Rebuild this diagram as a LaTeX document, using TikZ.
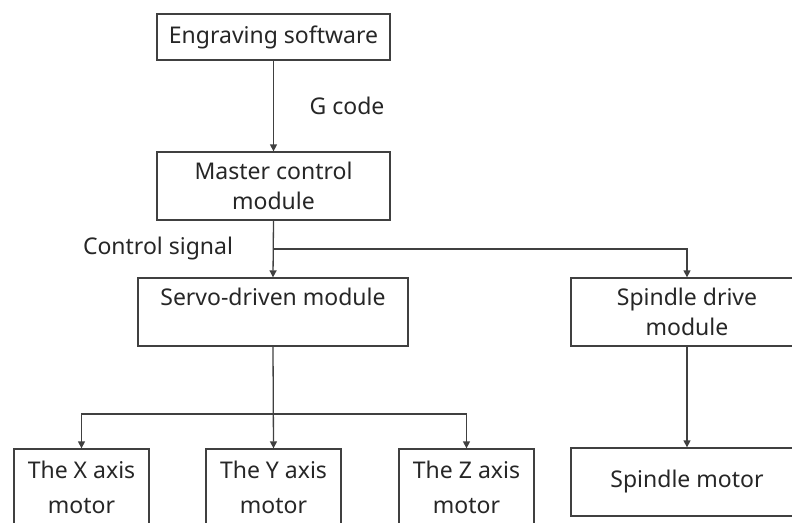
\documentclass[tikz,border=0pt]{standalone}
\usepackage{fontspec}
\setmainfont{Noto Sans}
\usepackage{tikz}
\usetikzlibrary{arrows.meta, positioning}

\begin{document}
\begin{tikzpicture}[
      x=1pt, y=-1pt,
      box/.style={
        rectangle, draw=black!75, line width=1.3pt,
        align=center, inner sep=0pt, text=black!85,
        font=\fontsize{23}{30}\selectfont
      },
      motor/.style={
        box, minimum width=135pt, minimum height=112pt,
        font=\fontsize{23}{35}\selectfont
      },
      lbl/.style={
        font=\fontsize{23}{30}\selectfont, text=black!85
      },
      arr/.style={
        -{Triangle[length=7pt, width=7pt]}, line width=1.3pt, draw=black!75
      }
    ]

    \useasboundingbox (0,0) rectangle (792,522);
    \clip (0,0) rectangle (792,522);

    % --- Upper boxes ---
    \node[box, minimum width=233pt, minimum height=46pt] (soft)   at (273.5,37)  {Engraving software};
    \node[box, minimum width=233pt, minimum height=68pt] (master) at (273.5,186) {Master control\\module};
    \node[box, minimum width=270pt, minimum height=68pt] (servo)  at (273,312)   {Servo-driven module\\ \mbox{}};
    \node[box, minimum width=232pt, minimum height=68pt] (spdrv)  at (687,312)   {Spindle drive\\module};

    % --- Motor boxes ---
    \node[motor] (xmot)  at (81.5,505)  {The X axis\\motor\\ \mbox{}};
    \node[motor] (ymot)  at (273.5,505) {The Y axis\\motor\\ \mbox{}};
    \node[motor] (zmot)  at (466.5,505) {The Z axis\\motor\\ \mbox{}};
    \node[box, minimum width=232pt, minimum height=68pt] (spmot) at (687,482) {Spindle motor};

    % --- Labels ---
    \node[lbl] (gcode) at (347,106) {G code};
    \node[lbl] (ctrl)  at (158,249) {Control signal};

    % --- Branch points ---
    \coordinate (fork1) at (273,249);
    \coordinate (fork2) at (273,414);

    % --- Arrows ---
    \draw[arr] (soft.south) -- (master.north);
    \draw[arr] (master.south) -- (servo.north);
    \draw[arr] (fork1) -| (spdrv.north);
    \draw[arr] (servo.south) -- (ymot.north);
    \draw[arr] (fork2) -| (xmot.north);
    \draw[arr] (fork2) -| (zmot.north);
    \draw[arr] (spdrv.south) -- (spmot.north);

  \end{tikzpicture}
\end{document}
